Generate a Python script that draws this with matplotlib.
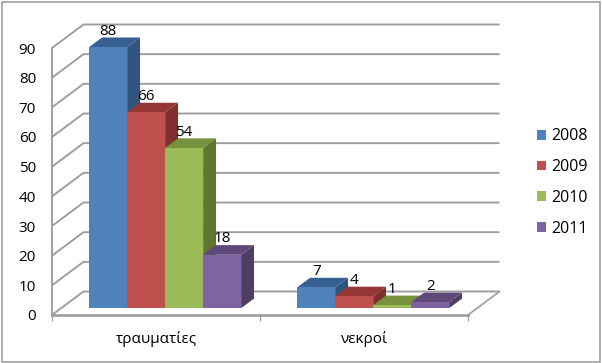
import matplotlib
matplotlib.use("Agg")
import matplotlib.pyplot as plt
from matplotlib.patches import Polygon, Rectangle

plt.rcParams['font.family'] = ['Open Sans', 'DejaVu Sans']

categories = ['τραυματίες', 'νεκροί']
years = ['2008', '2009', '2010', '2011']
values_2008 = [88, 7]
values_2009 = [66, 4]
values_2010 = [54, 1]
values_2011 = [18, 2]
series = [values_2008, values_2009, values_2010, values_2011]
yticks = list(range(0, 100, 10))

front = ['#4F81BD', '#C0504D', '#9BBB59', '#8064A2']
top = ['#376092', '#953735', '#76923C', '#5F497A']
side = ['#31557F', '#7F2F2D', '#5F7530', '#4F3D66']
GRID = '#9C9C9C'

W, H = 602, 363
L, R, B, T = 52, 468, 315, 48
fig = plt.figure(figsize=(W / 100, H / 100), dpi=100, facecolor='white')
ax = fig.add_axes([L / W, 1 - B / H, (R - L) / W, (B - T) / H])
ax.set_xlim(0, 2)
ax.set_ylim(0, 90)
ax.patch.set_visible(False)

sx = 2 / (R - L)          # data units per pixel
sy = 90 / (B - T)
DX, DY = 31.5, 23.5       # full floor depth in pixels


def proj(x, y, d):
    """Shift a point (x, y) back by depth d (0 = front plane, 1 = back wall)."""
    return x + d * DX * sx, y + d * DY * sy


# walls and gridlines
for v in yticks:
    pts = [proj(0, v, 0), proj(0, v, 1), proj(2, v, 1)]
    ax.plot(*zip(*pts), color=GRID, lw=1.35, clip_on=False, zorder=1,
            solid_capstyle='butt')
ax.plot(*zip(proj(2, 0, 0), proj(2, 0, 1)), color=GRID, lw=1.2, clip_on=False, zorder=1)

# bars
bw = 38 * sx
d0, d1 = 0.29, 0.70
z = 3
for ci in range(len(categories)):
    start = ci + 0.5 - 2 * bw
    for si, vals in enumerate(series):
        v = vals[ci]
        x0 = start + si * bw
        x1 = x0 + bw
        f = [proj(x0, 0, d0), proj(x1, 0, d0), proj(x1, v, d0), proj(x0, v, d0)]
        t = [proj(x0, v, d0), proj(x1, v, d0), proj(x1, v, d1), proj(x0, v, d1)]
        s = [proj(x1, 0, d0), proj(x1, 0, d1), proj(x1, v, d1), proj(x1, v, d0)]
        ax.add_patch(Polygon(s, closed=True, fc=side[si], ec='none', zorder=z, clip_on=False))
        ax.add_patch(Polygon(t, closed=True, fc=top[si], ec='none', zorder=z, clip_on=False))
        ax.add_patch(Polygon(f, closed=True, fc=front[si], ec='none', zorder=z, clip_on=False))
        z += 1

# value labels
for ci in range(len(categories)):
    start = ci + 0.5 - 2 * bw
    for si, vals in enumerate(series):
        v = vals[ci]
        xc = start + (si + 0.5) * bw
        lx, ly = proj(xc, v, d1)
        lx = proj(xc, v, d0)[0]
        ax.annotate(str(v), (lx, ly), xytext=(0, 4.5), textcoords='offset points',
                    ha='center', va='center', fontsize=11, color='black',
                    annotation_clip=False, zorder=50)

# axes
ax.set_xticks([0.5, 1.5], categories)
ax.set_xticks([0, 1, 2], minor=True)
ax.set_yticks(yticks)
ax.tick_params(axis='x', which='major', length=0, pad=11.5, labelsize=11, colors='black')
ax.tick_params(axis='x', which='minor', length=4.5, width=0.9, color=GRID)
ax.tick_params(axis='y', length=0, pad=11.5, labelsize=11, labelcolor='black')
for sp in ('top', 'right'):
    ax.spines[sp].set_visible(False)
ax.spines['left'].set_color(GRID)
ax.spines['left'].set_linewidth(1.35)
ax.spines['bottom'].set_color(GRID)
ax.spines['bottom'].set_linewidth(1.9)

# legend
handles = [Rectangle((0, 0), 1, 1, fc=c, ec='none') for c in front]
leg = ax.legend(handles, years, loc='center left', bbox_to_anchor=(537 / W, 1 - 182.5 / H),
                bbox_transform=fig.transFigure, frameon=False, fontsize=11.5,
                handlelength=0.55, handleheight=0.55, handletextpad=0.35,
                labelspacing=0.92, borderpad=0, borderaxespad=0)

# chart frame
fig.add_artist(Rectangle((1.5 / W, 1 - 361.5 / H), 598 / W, 360 / H, transform=fig.transFigure,
                         fc='none', ec='#A0A0A0', lw=1.2))

fig.savefig('out.png', dpi=100)
